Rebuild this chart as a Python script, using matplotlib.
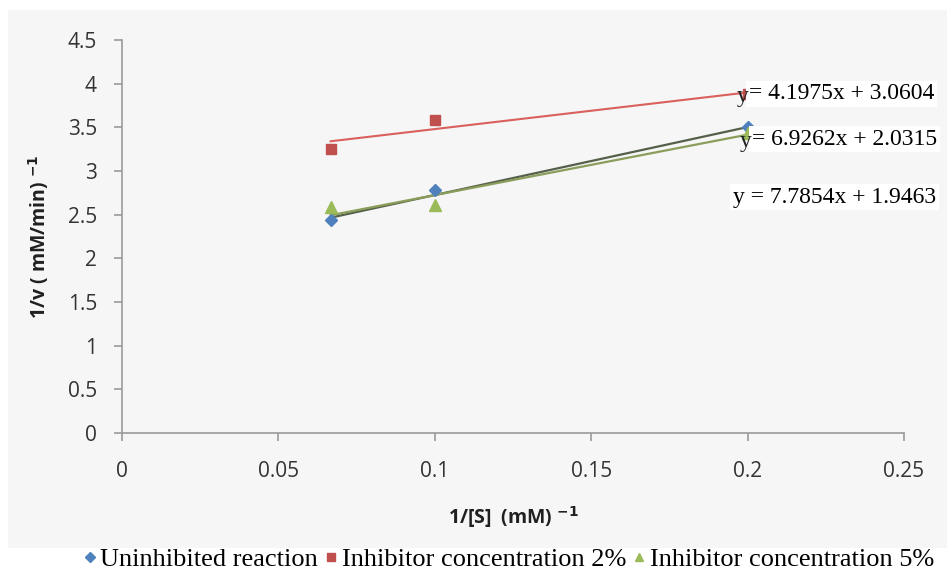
import numpy as np
import matplotlib
matplotlib.use("Agg")
import matplotlib.pyplot as plt
from matplotlib.patches import Rectangle
from matplotlib.lines import Line2D

# data
inv_s = [0.0667, 0.1, 0.2]
uninhibited = [2.44, 2.78, 3.50]
inhib_2 = [3.25, 3.585, 3.88]
inhib_5 = [2.59, 2.61, 3.44]

# trendline coefficients (slope, intercept) as printed on the chart
fit_uninhibited = (7.7854, 1.9463)
fit_inhib_2 = (4.1975, 3.0604)
fit_inhib_5 = (6.9262, 2.0315)

series_names = ["Uninhibited reaction", "Inhibitor concentration 2%", "Inhibitor concentration 5%"]
x_ticks = [0, 0.05, 0.1, 0.15, 0.2, 0.25]
x_ticklabels = ["0", "0.05", "0.1", "0.15", "0.2", "0.25"]
y_ticks = [0, 0.5, 1, 1.5, 2, 2.5, 3, 3.5, 4, 4.5]
y_ticklabels = ["0", "0.5", "1", "1.5", "2", "2.5", "3", "3.5", "4", "4.5"]

BLUE = "#4f81bd"; RED = "#c0504d"; GREEN = "#9bbb59"
TICKFONT = "Open Sans"; SERIF = "Liberation Serif"

fig = plt.figure(figsize=(9.47, 5.74), dpi=100)
fig.patch.set_facecolor("white")
fig.patches.append(Rectangle((0.0084, 0.0453), 0.9916, 0.9373, transform=fig.transFigure,
                             fc="#f6f6f6", ec="none", zorder=-10))
ax = fig.add_axes([0.1288, 0.2456, 0.8258, 0.6847])
ax.set_facecolor("none")

ax.set_xlim(0, 0.25); ax.set_ylim(0, 4.5)
for s in ["top", "right"]:
    ax.spines[s].set_visible(False)
for s in ["left", "bottom"]:
    ax.spines[s].set_color("#9a9a9a"); ax.spines[s].set_linewidth(1.2)
ax.tick_params(direction="out", length=6, width=1.2, color="#9a9a9a", labelcolor="#333333")
ax.tick_params(axis="x", pad=14); ax.tick_params(axis="y", pad=12)
ax.set_xticks(x_ticks); ax.set_xticklabels(x_ticklabels, fontfamily=TICKFONT, fontsize=15)
ax.set_yticks(y_ticks); ax.set_yticklabels(y_ticklabels, fontfamily=TICKFONT, fontsize=15)

# trendlines
xs = np.array([inv_s[0], inv_s[-1]])
ax.plot(xs, fit_inhib_2[0]*xs+fit_inhib_2[1], color="#d9605c", lw=1.5, zorder=2)
ax.plot(xs, fit_uninhibited[0]*xs+fit_uninhibited[1], color="#55604a", lw=1.6, zorder=2)
ax.plot(xs, fit_inhib_5[0]*xs+fit_inhib_5[1], color="#8a9d5a", lw=1.6, zorder=2)

# points
ax.plot(inv_s, uninhibited, "D", ms=6, color=BLUE, ls="none", zorder=3)
ax.plot(inv_s, inhib_2, "s", ms=7, color=RED, ls="none", zorder=3)
ax.plot(inv_s, inhib_5, "^", ms=8, color=GREEN, ls="none", zorder=3)

# trendline equations
def px2data(px, py):
    return (px-122)/782*0.25, (433-py)/87.33

for ytxt_px, eq_px, txt in [((743, 97), (749, 94), f"= {fit_inhib_2[0]:.4f}x + {fit_inhib_2[1]:.4f}"),
                            ((746, 141), (752, 139), f"= {fit_inhib_5[0]:.4f}x + {fit_inhib_5[1]:.4f}")]:
    ax.text(*px2data(*eq_px), txt, fontfamily=SERIF, fontsize=17, ha="left", va="center",
            color="black", clip_on=False, zorder=4,
            bbox=dict(boxstyle="square,pad=0.12", fc="white", ec="none"))
    ax.text(*px2data(*ytxt_px), "y", fontfamily=SERIF, fontsize=17, ha="center", va="center",
            color="#202020", clip_on=False, zorder=5)
ax.text(*px2data(733, 197), f"y = {fit_uninhibited[0]:.4f}x + {fit_uninhibited[1]:.4f}",
        fontfamily=SERIF, fontsize=17, ha="left", va="center", clip_on=False, zorder=4,
        bbox=dict(boxstyle="square,pad=0.12", fc="white", ec="none"))

ax.set_xlabel(r"1/[S]  (mM) $^{\mathbf{-1}}$", fontfamily=TICKFONT, fontsize=14,
              fontweight="bold", color="#202020", labelpad=16)
ax.set_ylabel(r"1/v ( mM/min) $^{\mathbf{-1}}$", fontfamily=TICKFONT, fontsize=14,
              fontweight="bold", color="#202020", labelpad=12)

handles = [Line2D([], [], marker="D", ms=5, color=BLUE, ls="none"),
           Line2D([], [], marker="s", ms=6, color=RED, ls="none"),
           Line2D([], [], marker="^", ms=6, color=GREEN, ls="none")]
fig.legend(handles, series_names, loc="center", bbox_to_anchor=(0.535, 0.025), ncol=3,
           frameon=False, prop={"family": SERIF, "size": 19}, handletextpad=0.0,
           columnspacing=0.1, handlelength=0.8, borderpad=0)

fig.savefig("out.png", dpi=100)
